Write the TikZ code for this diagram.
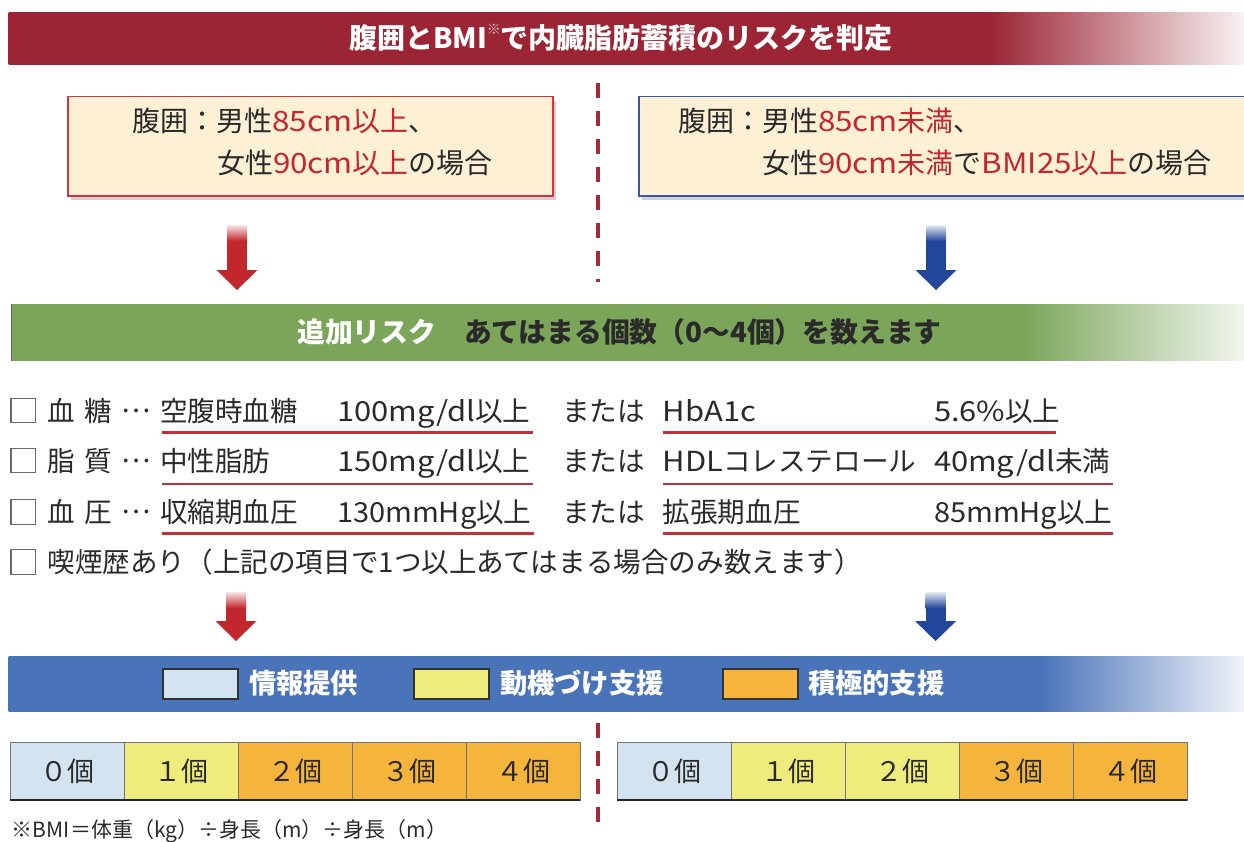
\documentclass[tikz,border=0pt]{standalone}
\usepackage{fontspec}
\setmainfont{Noto Sans CJK JP}
\usetikzlibrary{arrows.meta,shadows,calc}
\definecolor{hdr}{HTML}{9B2535}
\definecolor{grn}{HTML}{7BA65A}
\definecolor{blu}{HTML}{4A74B9}
\definecolor{cream}{HTML}{FEF0D5}
\definecolor{boxred}{HTML}{D0353C}
\definecolor{boxblue}{HTML}{3559AC}
\definecolor{hl}{HTML}{C3262E}
\definecolor{txt}{HTML}{2A2A2A}
\definecolor{arrred}{HTML}{C1272D}
\definecolor{arrblue}{HTML}{22469A}
\definecolor{dashred}{HTML}{A8293A}
\definecolor{ulred}{HTML}{C1313A}
\definecolor{cA}{HTML}{D3E3F0}
\definecolor{cB}{HTML}{EFEC7E}
\definecolor{cC}{HTML}{F5B43B}
\definecolor{chk}{HTML}{6A6A6A}
\pgfdeclarehorizontalshading{hdrsh}{100bp}{color(0bp)=(hdr); color(25bp)=(hdr); color(64.7bp)=(hdr); color(75bp)=(hdr!6); color(100bp)=(hdr!6)}
\pgfdeclarehorizontalshading{grnsh}{100bp}{color(0bp)=(grn); color(25bp)=(grn); color(66bp)=(grn); color(75bp)=(grn!10); color(100bp)=(grn!10)}
\pgfdeclarehorizontalshading{blush}{100bp}{color(0bp)=(blu); color(25bp)=(blu); color(66.8bp)=(blu); color(75bp)=(blu!8); color(100bp)=(blu!8)}
\newcommand\latw[1]{{\addfontfeatures{FakeStretch=1.12}#1}}
\newcommand\latn[1]{{\addfontfeatures{FakeStretch=1.05}#1}}
\newcommand\myarrow[5]{%
  \coordinate (#1s) at (#2,#3);
  \coordinate (#1e) at (#2,#4);
  \shade[top color=#5!12, bottom color=#5] ($(#1s)+(-10,0)$) rectangle ($(#1s)+(10,16)$);
  \fill[#5] ($(#1s)+(-10,15.5)$) rectangle ($(#1e)+(10,-19.5)$);
  \fill[#5] ($(#1e)+(-20.5,-20)$) -- ($(#1e)+(20.5,-20)$) -- (#1e) -- cycle;
}
\begin{document}
\begin{tikzpicture}[x=1pt,y=-1pt,
  every node/.style={inner sep=0pt, outer sep=0pt},
  ttl/.style={font=\fontsize{27.8}{30}\selectfont\bfseries, anchor=base},
  body/.style={font=\fontsize{27.6}{32}\selectfont, text=txt, anchor=base west},
  boxtxt/.style={font=\fontsize{28}{32}\selectfont, text=txt, anchor=base west},
  cond/.style={draw=#1, fill=cream, line width=1.2pt, minimum height=99.3pt,
     drop shadow={shadow xshift=3pt, shadow yshift=-4pt, opacity=0.18, fill=black}},
  chkbox/.style={draw=chk, line width=1.2pt, minimum size=24.5pt, fill=white},
  ul/.style={draw=ulred, line width=2.6pt},
  cell/.style={draw=black!55, line width=0.8pt, minimum width=114pt, minimum height=57.3pt,
     font=\fontsize{27}{30}\selectfont, text=txt, text height=21pt, text depth=1pt},
  lg/.style={draw=black!80, line width=1.4pt, minimum width=75pt, minimum height=30pt},
  lgtxt/.style={font=\fontsize{27.3}{30}\selectfont\bfseries, text=white, anchor=base west},
  dsh/.style={draw=dashred, line width=4.5pt, dash pattern=on 15pt off 13pt}
]
\useasboundingbox (0,0) rectangle (1244,841);
\clip (0,0) rectangle (1244,841);
\fill[white] (0,0) rectangle (1244,841);

% ---------- header bar
\shade[shading=hdrsh] (8.7,12.3) rectangle (1244,64.3);
\node[ttl, text=white, font=\fontsize{28}{30}\selectfont\bfseries] (title) at (621,48.6)
  {腹囲とBMI\raisebox{0.5em}{\fontsize{14}{14}\selectfont\textcolor{hdr!25}{※}}で内臓脂肪蓄積のリスクを判定};

% ---------- dashed dividers
\coordinate (d1t) at (598,83);
\coordinate (d1b) at (598,282);
\draw[dsh] (d1t) -- (d1b);
\coordinate (d2t) at (598,723);
\coordinate (d2b) at (598,824);
\draw[dsh] (d2t) -- (d2b);

% ---------- condition boxes
\node[cond=boxred, minimum width=485pt] (boxL) at (310.5,146.4) {};
\node[cond=boxblue, minimum width=615pt] (boxR) at (946.5,146.4) {};
\node[boxtxt] (L1) at (132.5,131.6) {腹囲：男性\textcolor{hl}{\latw{85cm}以上}、};
\node[boxtxt] (L2) at (217,173.6) {女性\textcolor{hl}{\latw{90cm}以上}の場合};
\node[boxtxt] (R1) at (678,131.6) {腹囲：男性\textcolor{hl}{\latw{85cm}未満}、};
\node[boxtxt] (R2) at (762,173.6) {女性\textcolor{hl}{\latw{90cm}未満}で\textcolor{hl}{\latw{BMI25}以上}の場合};

% ---------- arrows
\myarrow{ra}{237}{225}{290}{arrred}
\myarrow{ba}{936}{225}{290}{arrblue}

% ---------- green bar
\shade[shading=grnsh] (11,304) rectangle (1244,360.7);
\draw[black!60, line width=1.2pt] (11.6,304) -- (11.6,360.7);
\node[ttl, text=txt] (add) at (619.5,342.6)
  {\textcolor{white}{追加リスク}　あてはまる個数（0〜4個）を数えます};

% ---------- checklist
\node[chkbox] (cb1) at (23.3,410.6) {};
\node[body] (r1a) at (47.5,421.5) {血};
\node[body] (r1b) at (84,421.5) {糖};
\node[body] (r1c) at (121,412.5) {…};
\node[body] (r1d) at (160,421.5) {空腹時血糖};
\node[body] (r1e) at (337,421.5) {\latw{100mg/dl}以上};
\node[body] (r1f) at (562,421.5) {または};
\node[body] (r1g) at (662.6,421.5) {\latw{HbA1c}};
\node[body] (r1h) at (934,421.5) {\latw{5.6\%}以上};
\draw[ul] (162,432.7) -- (532.6,432.7);
\draw[ul] (662.6,432.7) -- (1055.7,432.7);

\node[chkbox] (cb2) at (23.3,460.6) {};
\node[body] (r2a) at (47.5,471.5) {脂};
\node[body] (r2b) at (84,471.5) {質};
\node[body] (r2c) at (121,462.5) {…};
\node[body] (r2d) at (160,471.5) {中性脂肪};
\node[body] (r2e) at (337,471.5) {\latw{150mg/dl}以上};
\node[body] (r2f) at (562,471.5) {または};
\node[body] (r2g) at (662.6,471.5) {\latw{HDL}コレステロール};
\node[body] (r2h) at (934,471.5) {\latw{40mg/dl}未満};
\draw[ul] (162,484) -- (532.6,484);
\draw[ul] (662.6,484) -- (1113.4,484);

\node[chkbox] (cb3) at (23.3,512) {};
\node[body] (r3a) at (47.5,522.5) {血};
\node[body] (r3b) at (84,522.5) {圧};
\node[body] (r3c) at (121,513.5) {…};
\node[body] (r3d) at (160,522.5) {収縮期血圧};
\node[body] (r3e) at (337,522.5) {\latn{130mmHg}以上};
\node[body] (r3f) at (562,522.5) {または};
\node[body] (r3g) at (662.6,522.5) {拡張期血圧};
\node[body] (r3h) at (934,522.5) {\latn{85mmHg}以上};
\draw[ul] (162,533.5) -- (534,533.5);
\draw[ul] (662.6,533.5) -- (1113.4,533.5);

\node[chkbox] (cb4) at (23.3,562) {};
\node[body] (r4a) at (47.5,572.5) {喫煙歴あり（上記の項目で1つ以上あてはまる場合のみ数えます）};

% ---------- arrows 2
\myarrow{rb}{236}{592}{641}{arrred}
\myarrow{bb}{935.6}{592}{641}{arrblue}

% ---------- blue bar with legend
\shade[shading=blush] (8.7,656) rectangle (1244,711.7);
\node[lg, fill=cA] (lg1) at (200.5,684) {};
\node[lgtxt] (lt1) at (249,693.5) {情報提供};
\node[lg, fill=cB] (lg2) at (451.5,684) {};
\node[lgtxt] (lt2) at (500,693.5) {動機づけ支援};
\node[lg, fill=cC] (lg3) at (760.4,684) {};
\node[lgtxt] (lt3) at (808,693.5) {積極的支援};

% ---------- count cells
\node[cell, fill=cA] (L0) at (67,771.4) {０個};
\node[cell, fill=cB] (La) at (181,771.4) {１個};
\node[cell, fill=cC] (Lb) at (295,771.4) {２個};
\node[cell, fill=cC] (Lc) at (409,771.4) {３個};
\node[cell, fill=cC] (Ld) at (523,771.4) {４個};
\draw[black!85, line width=2.5pt] (L0.south west) -- (Ld.south east);

\node[cell, fill=cA] (R0) at (674,771.4) {０個};
\node[cell, fill=cB] (Ra) at (788,771.4) {１個};
\node[cell, fill=cB] (Rb) at (902,771.4) {２個};
\node[cell, fill=cC] (Rc) at (1016,771.4) {３個};
\node[cell, fill=cC] (Rd) at (1130,771.4) {４個};
\draw[black!85, line width=2.5pt] (R0.south west) -- (Rd.south east);

% ---------- footnote
\node[anchor=base west, font=\fontsize{21}{24}\selectfont, text=txt] (foot) at (12,837.5)
  {※BMI＝体重（kg）÷身長（m）÷身長（m）};
\end{tikzpicture}
\end{document}
